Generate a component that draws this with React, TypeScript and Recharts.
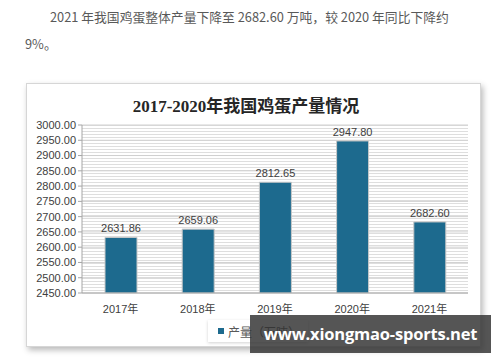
import { BarChart, Bar, XAxis, YAxis, CartesianGrid, LabelList } from "recharts";

const years = ["2017年", "2018年", "2019年", "2020年", "2021年"];
const output = [2631.86, 2659.06, 2812.65, 2947.8, 2682.6];
const yTicks = [2450, 2500, 2550, 2600, 2650, 2700, 2750, 2800, 2850, 2900, 2950, 3000];

const data = years.map((y, i) => ({ year: y, value: output[i] }));

const BAR = "#1d6a8e";
const AXIS = "#a6a6a6";
const TXT = "#404040";
const tickFont = "'Liberation Sans', Arial, sans-serif";

export default function App() {
  return (
    <div
      style={{
        position: "absolute",
        left: 0,
        top: 0,
        width: 500,
        height: 362,
        background: "#fff",
        overflow: "hidden",
        fontFamily: "'Noto Sans CJK SC', sans-serif",
      }}
    >
      {/* intro paragraph */}
      <div style={{ position: "absolute", left: 50, top: 8, fontSize: 12.8, color: "#595959", whiteSpace: "nowrap", lineHeight: "18px" }}>
        2021 年我国鸡蛋整体产量下降至 2682.60 万吨，较 2020 年同比下降约
      </div>
      <div style={{ position: "absolute", left: 25, top: 35, fontSize: 12.8, color: "#595959", whiteSpace: "nowrap", lineHeight: "18px" }}>
        9%。
      </div>

      {/* chart frame */}
      <div
        style={{
          position: "absolute",
          left: 26,
          top: 83,
          width: 455,
          height: 264,
          boxSizing: "border-box",
          border: "1px solid #d6d6d6",
          boxShadow: "2px 3px 6px rgba(0,0,0,0.28)",
          background: "#fff",
        }}
      />
      <div
        style={{
          position: "absolute",
          left: 46,
          top: 92,
          width: 400,
          textAlign: "center",
          fontSize: 17,
          fontWeight: 700,
          color: "#262626",
          fontFamily: "'Liberation Serif', 'Noto Sans CJK SC', serif",
          whiteSpace: "nowrap",
        }}
      >
        2017-2020年我国鸡蛋产量情况
      </div>
      <div style={{ position: "absolute", left: 26, top: 83 }}>
        <BarChart
          width={455}
          height={264}
          data={data}
          margin={{ top: 42, right: 13, left: 0, bottom: 24 }}
        >
          <defs>
            <pattern id="stripes" x="0" y="42" width="8" height="3" patternUnits="userSpaceOnUse">
              <rect x="0" y="0" width="8" height="1" fill="#dedede" />
            </pattern>
          </defs>
          <CartesianGrid
            vertical={false}
            stroke="#d0d0d0"
            fill="url(#stripes)"
            fillOpacity={1}
          />
          <XAxis
            dataKey="year"
            height={30}
            tickLine={false}
            axisLine={{ stroke: AXIS }}
            tick={{ fill: TXT, fontSize: 11, fontFamily: "'Liberation Sans', 'Noto Sans CJK SC', sans-serif" }}
            tickMargin={6}
          />
          <YAxis
            width={56}
            domain={[2450, 3000]}
            ticks={yTicks}
            interval={0}
            allowDataOverflow
            axisLine={{ stroke: AXIS }}
            tickLine={{ stroke: AXIS }}
            tickSize={4}
            tickFormatter={(v: number) => v.toFixed(2)}
            tick={{ fill: TXT, fontSize: 11, fontFamily: tickFont }}
          />
          <Bar dataKey="value" fill={BAR} stroke="#c8c8c8" strokeWidth={1} barSize={32} isAnimationActive={false}>
            <LabelList
              dataKey="value"
              position="top"
              offset={5}
              formatter={(v: number) => v.toFixed(2)}
              style={{ fill: TXT, fontSize: 11, fontFamily: tickFont }}
            />
          </Bar>
        </BarChart>
      </div>

      {/* legend */}
      <div
        style={{
          position: "absolute",
          left: 208,
          top: 320,
          height: 22,
          padding: "0 8px 0 10px",
          display: "flex",
          alignItems: "center",
          background: "#fff",
          boxShadow: "0 1px 3px rgba(0,0,0,0.18)",
          fontSize: 12,
          color: "#595959",
          whiteSpace: "nowrap",
        }}
      >
        <span style={{ display: "inline-block", width: 6, height: 6, background: BAR, marginRight: 4 }} />
        产量（万吨）
      </div>

      {/* watermark */}
      <div
        style={{
          position: "absolute",
          left: 250,
          top: 315,
          width: 241,
          height: 38,
          background: "rgba(48,48,48,0.82)",
          color: "#fff",
          fontFamily: "'Open Sans', 'DejaVu Sans', sans-serif",
          fontWeight: 700,
          fontSize: 16.5,
          lineHeight: "38px",
          textAlign: "center",
          whiteSpace: "nowrap",
          letterSpacing: -0.2,
        }}
      >
        www.xiongmao-sports.net
      </div>
    </div>
  );
}
